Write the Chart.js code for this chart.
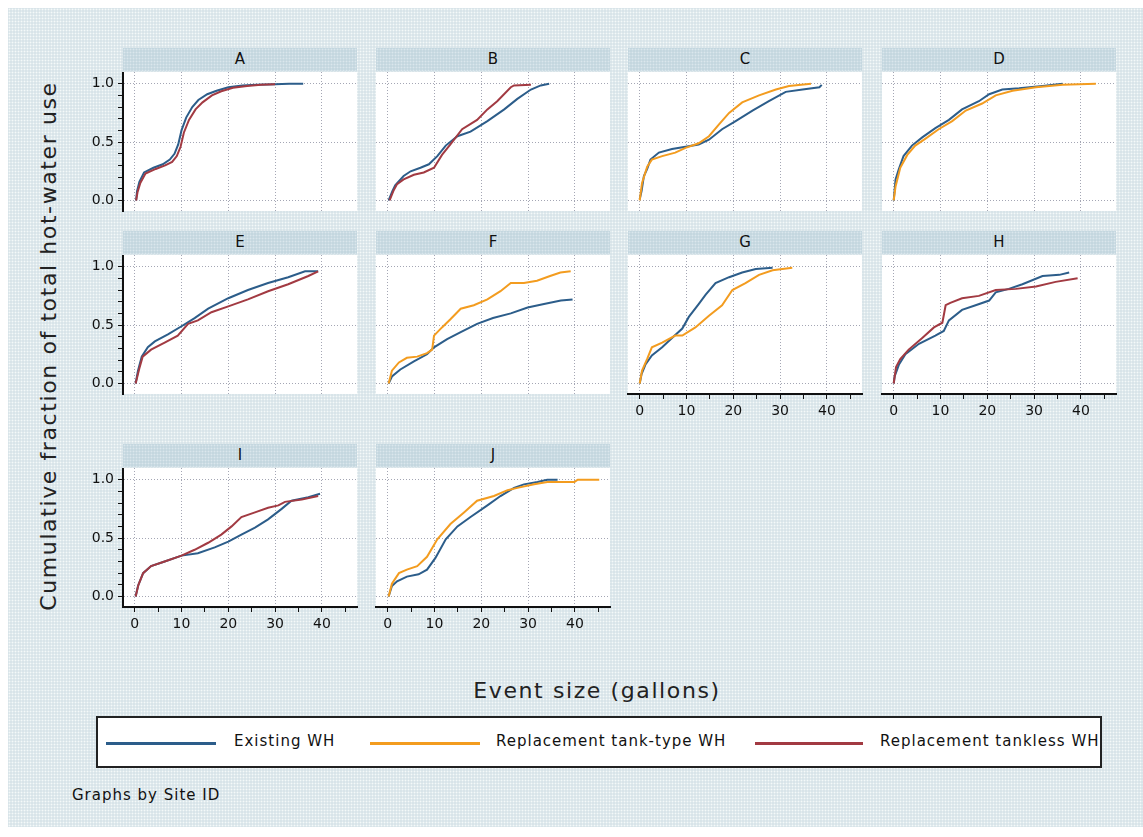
<!DOCTYPE html>
<html>
<head>
<meta charset="utf-8">
<script src="https://cdn.jsdelivr.net/npm/chart.js@4"></script>
<style>
  body { margin: 0; width: 1143px; height: 837px; overflow: hidden; position: relative; background: #fff; font-family: "DejaVu Sans", sans-serif; }
  #bg { position: absolute; left: 8px; top: 8px; width: 1135px; height: 819px; background-color: #d8e4e9;
        background-image: radial-gradient(circle, #f4f9f9 0.9px, transparent 1.05px); background-size: 3px 3px; }
  .strip { position: absolute; height: 23px; background-color: #c4d7df; background-image: radial-gradient(circle, #dae7ec 0.9px, transparent 1.05px); background-size: 3px 3px;
           text-align: center; font-size: 15px; line-height: 23px; color: #111; }
  canvas.panel { position: absolute; }
  .title { position: absolute; color: #222; font-size: 22px; letter-spacing: 1.6px; white-space: nowrap; }
  #legend { position: absolute; left: 96px; top: 716px; width: 1006px; height: 52px; box-sizing: border-box; background: #fff; border: 2px solid #222; overflow: hidden; }
  .key { position: absolute; height: 3px; top: 24px; }
  .lab { position: absolute; top: 14px; font-size: 15px; letter-spacing: 1px; color: #111; white-space: nowrap; }
  #note { position: absolute; left: 72px; top: 786px; font-size: 15px; letter-spacing: 1px; color: #111; }
</style>
</head>
<body>
<div id="bg"></div>
<div class="title" id="ytitle" style="left:48px; top:346px; transform: translate(-50%,-50%) rotate(-90deg);">Cumulative fraction of total hot-water use</div>
<div class="title" id="xtitle" style="left:597px; top:690px; transform: translate(-50%,-50%);">Event size (gallons)</div>
<div id="legend">
  <div class="key" style="left:8px; width:110px; background:#2c5d8a;"></div>
  <div class="lab" style="left:136px;">Existing WH</div>
  <div class="key" style="left:272px; width:110px; background:#f39c1f;"></div>
  <div class="lab" style="left:398px;">Replacement tank-type WH</div>
  <div class="key" style="left:657px; width:108px; background:#a23a42;"></div>
  <div class="lab" style="left:782px;">Replacement tankless WH</div>
</div>
<div id="note">Graphs by Site ID</div>

<script>
// cumulative fraction curves, [gallons, fraction]
const A_existing = [[0.3,0],[0.5,0.08],[1,0.16],[2,0.24],[4,0.28],[6,0.31],[7.5,0.35],[8.5,0.4],[9.3,0.48],[10,0.6],[11,0.71],[12.3,0.8],[13.6,0.86],[15.5,0.91],[17.5,0.94],[20,0.97],[23,0.985],[26,0.99],[30,0.995],[33,1],[36,1]];
const A_tankless = [[0.3,0],[0.6,0.07],[1.2,0.15],[2.3,0.23],[4.5,0.27],[6.5,0.3],[8,0.33],[9,0.38],[9.8,0.46],[10.5,0.58],[11.6,0.69],[13,0.78],[14.5,0.84],[16.5,0.9],[18.5,0.935],[21,0.965],[24,0.98],[27,0.99],[30,0.995]];
const B_existing = [[0.2,0],[1,0.08],[1.6,0.13],[3.4,0.21],[4.9,0.25],[7,0.28],[8.8,0.31],[10.6,0.38],[12.4,0.47],[14.9,0.55],[17.7,0.59],[21.3,0.68],[24.9,0.78],[27.7,0.87],[30.6,0.95],[32.7,0.985],[34.5,1]];
const B_tankless = [[0.4,0],[1.2,0.08],[2,0.14],[3.4,0.18],[5.6,0.22],[7.7,0.24],[9.9,0.28],[11.6,0.39],[13.4,0.48],[15.9,0.61],[19.1,0.69],[21.3,0.78],[23.4,0.85],[26.3,0.97],[27,0.985],[30.6,0.99]];
const C_existing = [[0,0.01],[0.4,0.08],[0.9,0.21],[1.6,0.27],[2.3,0.35],[4.1,0.41],[6.9,0.44],[9.8,0.46],[12.6,0.48],[14.8,0.52],[17.6,0.61],[20.5,0.68],[24.1,0.77],[27.6,0.85],[31.2,0.93],[34.8,0.95],[38.4,0.97],[38.9,0.99]];
const C_tank = [[0,0],[0.5,0.15],[1.6,0.29],[2.6,0.35],[4.8,0.38],[7.6,0.41],[9.8,0.45],[12.6,0.49],[14.8,0.55],[16.9,0.65],[19.1,0.75],[21.9,0.84],[25.5,0.9],[29.1,0.95],[31.9,0.98],[36.6,1]];
const D_existing = [[0,0],[0.4,0.18],[1.1,0.27],[2.1,0.38],[3.9,0.47],[6.1,0.54],[8.9,0.62],[11.8,0.69],[14.6,0.78],[18.2,0.85],[20.4,0.91],[23.2,0.95],[26.8,0.96],[31.8,0.98],[36.1,1]];
const D_tank = [[0,0],[0.4,0.12],[1.4,0.28],[2.9,0.39],[4.6,0.47],[6.8,0.53],[9.6,0.61],[12.5,0.68],[15.4,0.77],[18.9,0.83],[21.8,0.9],[25.4,0.94],[30.4,0.97],[36.1,0.99],[43.2,1]];
const E_existing = [[0.2,0],[0.7,0.11],[1.5,0.23],[2.8,0.31],[4.3,0.36],[7.1,0.42],[10,0.49],[12.8,0.56],[15.7,0.64],[20,0.73],[24.2,0.8],[28.5,0.86],[32.8,0.91],[36.4,0.96],[39.2,0.96]];
const E_tankless = [[0.2,0],[1,0.13],[1.7,0.23],[3.5,0.29],[6.4,0.35],[9.2,0.41],[11.4,0.51],[13.5,0.54],[16.4,0.61],[20,0.66],[24.2,0.72],[28.5,0.79],[32.8,0.85],[37.1,0.92],[39.2,0.96]];
const F_existing = [[0.2,0],[0.9,0.06],[2.7,0.12],[5.6,0.19],[8.4,0.25],[9.9,0.31],[12.7,0.38],[15.6,0.44],[19.1,0.51],[22.5,0.56],[26.3,0.6],[29.9,0.65],[33.4,0.68],[37,0.71],[39.5,0.72]];
const F_tank = [[0.2,0],[0.9,0.11],[2.4,0.18],[4.1,0.22],[6.3,0.23],[8.4,0.26],[9.5,0.29],[9.9,0.41],[11.6,0.48],[13.4,0.55],[15.6,0.64],[18.4,0.67],[21.3,0.72],[24.1,0.79],[26.3,0.86],[29.1,0.86],[31.9,0.88],[34.7,0.92],[36.9,0.95],[39.1,0.96]];
const G_existing = [[0,0],[0.4,0.08],[1.2,0.16],[2.6,0.24],[4.8,0.31],[6.9,0.39],[9.1,0.47],[10.5,0.57],[12.6,0.68],[14.1,0.76],[16.2,0.86],[19.1,0.91],[21.9,0.95],[24.8,0.98],[28.4,0.99]];
const G_tank = [[0,0],[0.5,0.11],[1.6,0.21],[2.6,0.31],[4.8,0.35],[7.6,0.41],[9.1,0.41],[11.9,0.48],[14.8,0.58],[17.6,0.67],[19.8,0.8],[22.6,0.86],[25.5,0.93],[28.4,0.97],[32.6,0.99]];
const H_existing = [[0,0],[0.2,0.06],[1.1,0.16],[2.5,0.25],[5.4,0.34],[8.9,0.41],[10.7,0.45],[11.8,0.54],[14.6,0.63],[17.5,0.67],[20.4,0.71],[21.8,0.78],[24.6,0.81],[27.5,0.85],[31.8,0.92],[35.4,0.93],[37.5,0.95]];
const H_tankless = [[0,0],[0.5,0.14],[1.4,0.21],[3.2,0.29],[6.1,0.39],[8.6,0.48],[10.4,0.52],[11.1,0.67],[12.1,0.69],[14.6,0.73],[18.2,0.75],[21.8,0.8],[26.1,0.81],[30.4,0.83],[34.6,0.87],[39.3,0.9]];
const I_existing = [[0.2,0],[0.7,0.09],[1.8,0.2],[3.5,0.26],[6.4,0.3],[10,0.35],[13.5,0.37],[17.1,0.42],[20,0.47],[22.8,0.53],[25.7,0.59],[28.5,0.66],[31.4,0.75],[33.5,0.82],[37.1,0.85],[39.6,0.88]];
const I_tankless = [[0.2,0],[0.8,0.1],[1.8,0.2],[3.5,0.26],[6.4,0.3],[10,0.35],[12.8,0.4],[15.7,0.46],[18.5,0.53],[20.7,0.6],[22.8,0.68],[25.7,0.72],[28.5,0.76],[30.7,0.78],[32.1,0.81],[35.7,0.83],[39.2,0.86]];
const J_existing = [[0.2,0],[0.9,0.09],[2,0.13],[4.1,0.17],[6.6,0.19],[8.4,0.23],[10.2,0.33],[12.4,0.49],[14.9,0.6],[17.7,0.68],[21.3,0.78],[24.1,0.86],[27,0.93],[29.1,0.96],[32,0.98],[34.1,1],[36.3,1]];
const J_tank = [[0.2,0],[0.9,0.11],[2.4,0.2],[4.1,0.23],[6.3,0.26],[8.4,0.34],[10.6,0.49],[13.4,0.62],[16.3,0.72],[19.1,0.82],[22.7,0.86],[25.6,0.91],[27.7,0.93],[31.3,0.96],[34.1,0.98],[39.9,0.98],[40.6,1],[45.2,1]];

const sites = ["A","B","C","D","E","F","G","H","I","J"];
const xTickValues = [0,5,10,15,20,25,30,35,40,45];
const yTickValues = [0,0.1,0.2,0.3,0.4,0.5,0.6,0.7,0.8,0.9,1.0];

const colors = { existing: "#2c5d8a", tank: "#f39c1f", tankless: "#a23a42" };
const seriesBySite = {
  A: { existing: A_existing, tankless: A_tankless },
  B: { existing: B_existing, tankless: B_tankless },
  C: { existing: C_existing, tank: C_tank },
  D: { existing: D_existing, tank: D_tank },
  E: { existing: E_existing, tankless: E_tankless },
  F: { existing: F_existing, tank: F_tank },
  G: { existing: G_existing, tank: G_tank },
  H: { existing: H_existing, tankless: H_tankless },
  I: { existing: I_existing, tankless: I_tankless },
  J: { existing: J_existing, tank: J_tank }
};

// grid geometry for the by-graph
const colLeft = [123, 376, 628, 882];
const rowTop = [72, 255, 468];
const plotW = 234, plotH = 139;
const yAxisW = 50, xAxisH = 40;
const withXLabels = ["G", "H", "I", "J"];

const tickFont = { family: "DejaVu Sans", size: 14 };
const gridColor = "#a4a6b4";

// white plot region behind the curves
const plotBackground = {
  id: "plotBackground",
  beforeDraw(chart) {
    const a = chart.chartArea, ctx = chart.ctx;
    ctx.save();
    ctx.fillStyle = "#ffffff";
    ctx.fillRect(a.left, a.top, a.right - a.left, a.bottom - a.top);
    ctx.restore();
  }
};

const isMajorY = v => Math.abs(v * 2 - Math.round(v * 2)) < 1e-6;

sites.forEach((site, i) => {
  const col = i % 4, row = Math.floor(i / 4);
  const showY = col === 0;
  const showX = withXLabels.includes(site);

  const strip = document.createElement("div");
  strip.className = "strip";
  strip.style.left = colLeft[col] + "px";
  strip.style.top = (rowTop[row] - 24) + "px";
  strip.style.width = plotW + "px";
  strip.textContent = site;
  document.body.appendChild(strip);

  const canvas = document.createElement("canvas");
  canvas.className = "panel";
  canvas.width = plotW + yAxisW + 4;
  canvas.height = plotH + xAxisH;
  canvas.style.left = (colLeft[col] - yAxisW) + "px";
  canvas.style.top = rowTop[row] + "px";
  document.body.appendChild(canvas);

  const datasets = Object.entries(seriesBySite[site]).map(([key, pts]) => ({
    data: pts.map(p => ({ x: p[0], y: p[1] })),
    borderColor: colors[key],
    borderWidth: 2,
    pointRadius: 0,
    tension: 0,
    fill: false,
    order: key === "existing" ? 2 : 1
  }));

  new Chart(canvas.getContext("2d"), {
    type: "line",
    data: { datasets },
    plugins: [plotBackground],
    options: {
      responsive: false,
      animation: false,
      layout: { padding: { left: 0, right: 4, top: 0, bottom: 0 }, autoPadding: false },
      plugins: { legend: { display: false }, tooltip: { enabled: false } },
      scales: {
        x: {
          type: "linear", min: -2.5, max: 47.5,
          afterBuildTicks: s => { s.ticks = xTickValues.map(v => ({ value: v })); },
          afterFit: s => { s.height = xAxisH; s.paddingLeft = 0; s.paddingRight = 0; },
          ticks: {
            display: showX, autoSkip: false, maxRotation: 0, padding: 4,
            color: "#111", font: tickFont,
            callback: v => (v % 10 === 0 && v <= 40 ? String(v) : "")
          },
          grid: {
            color: c => (c.tick && c.tick.value % 10 === 0 && c.tick.value <= 40 ? gridColor : "transparent"),
            tickColor: showX ? "#111" : "transparent",
            tickLength: 5, tickWidth: 1, lineWidth: 1
          },
          border: { display: showX, color: "#111", width: 2, dash: [1, 2] }
        },
        y: {
          type: "linear", min: -0.09, max: 1.1,
          afterBuildTicks: s => { s.ticks = yTickValues.map(v => ({ value: v })); },
          afterFit: s => { s.width = yAxisW; s.paddingTop = 0; s.paddingBottom = 0; },
          ticks: {
            display: showY, autoSkip: false, padding: 4,
            color: "#111", font: tickFont,
            callback: v => (isMajorY(v) ? v.toFixed(1) : "")
          },
          grid: {
            color: c => (c.tick && isMajorY(c.tick.value) ? gridColor : "transparent"),
            tickColor: showY ? "#111" : "transparent",
            tickLength: 5, tickWidth: 1, lineWidth: 1
          },
          border: { display: showY, color: "#111", width: 2, dash: [1, 2] }
        }
      }
    }
  });
});
</script>
</body>
</html>
